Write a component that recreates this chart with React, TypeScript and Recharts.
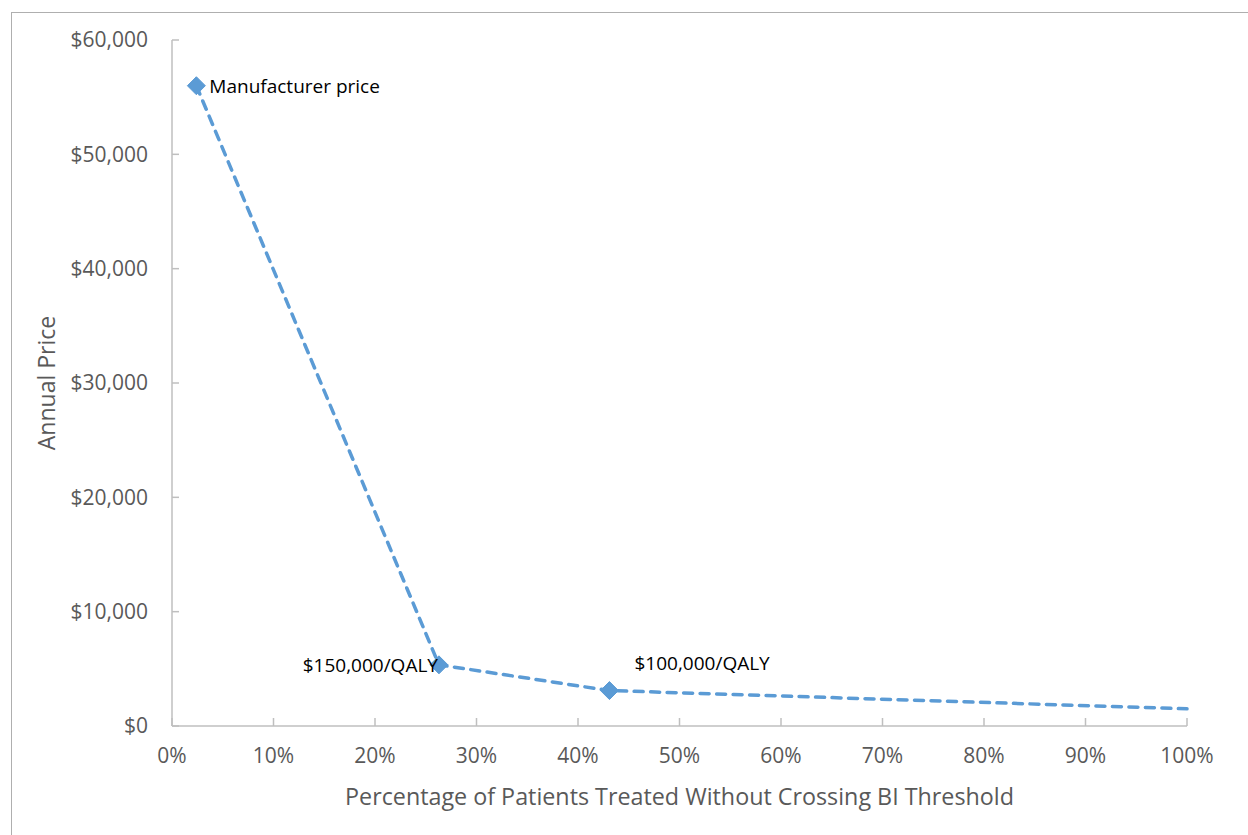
import React from 'react';
import { LineChart, Line, XAxis, YAxis, Label } from 'recharts';

// ---- data ----
const xPercent = [2.4, 26.3, 43.1, 100];
const annualPrice = [56000, 5350, 3100, 1500];
const pointLabels = ['Manufacturer price', '$150,000/QALY', '$100,000/QALY', ''];
const showMarker = [true, true, true, false];
const yTicks = [0, 10000, 20000, 30000, 40000, 50000, 60000];
const xTicks = [0, 10, 20, 30, 40, 50, 60, 70, 80, 90, 100];

const data = xPercent.map((x, i) => ({
  x,
  price: annualPrice[i],
  label: pointLabels[i],
  marker: showMarker[i],
}));

// ---- styles ----
const FONT = '"Open Sans", "Liberation Sans", sans-serif';
const AXIS_COLOR = '#BFBFBF';
const TICK_TEXT = '#595959';
const SERIES = '#5B9BD5';

const labelPlacement: Record<number, { dx: number; dy: number; anchor: 'start' | 'end' }> = {
  0: { dx: 13, dy: 1, anchor: 'start' },
  1: { dx: -1, dy: 1, anchor: 'end' },
  2: { dx: 25, dy: -27, anchor: 'start' },
};

const fmtMoney = (v: number) => '$' + v.toLocaleString('en-US');

const YTick = (props: any) => {
  const { x, y, payload } = props;
  return (
    <g>
      <line x1={x + 24} x2={x + 31} y1={y} y2={y} stroke={AXIS_COLOR} strokeWidth={1.5} />
      <text x={x} y={y} dy="0.35em" textAnchor="end" fill={TICK_TEXT} fontSize={21} fontFamily={FONT}>
        {fmtMoney(payload.value)}
      </text>
    </g>
  );
};

const XTick = (props: any) => {
  const { x, y, payload } = props;
  return (
    <g>
      <line x1={x} x2={x} y1={y - 30} y2={y - 38} stroke={AXIS_COLOR} strokeWidth={1.5} />
      <text x={x} y={y} dy="0.35em" textAnchor="middle" fill={TICK_TEXT} fontSize={21} fontFamily={FONT}>
        {payload.value + '%'}
      </text>
    </g>
  );
};

const Dot = (props: any) => {
  const { cx, cy, index, payload } = props;
  if (!payload.marker) return <g key={'d' + index} />;
  const r = 9;
  const p = labelPlacement[index];
  return (
    <g key={'d' + index}>
      <polygon
        points={`${cx},${cy - r} ${cx + r},${cy} ${cx},${cy + r} ${cx - r},${cy}`}
        fill={SERIES}
        stroke={SERIES}
        strokeWidth={1}
      />
      {payload.label && p ? (
        <text
          x={cx + p.dx}
          y={cy + p.dy}
          dy="0.35em"
          textAnchor={p.anchor}
          fill="#000000"
          fontSize={19}
          fontFamily={FONT}
        >
          {payload.label}
        </text>
      ) : null}
    </g>
  );
};

export default function App() {
  return (
    <div
      style={{
        position: 'absolute',
        left: 0,
        top: 0,
        width: 1248,
        height: 835,
        overflow: 'hidden',
        background: '#ffffff',
      }}
    >
      <div
        style={{
          position: 'absolute',
          left: 11,
          top: 12,
          width: 1400,
          height: 1000,
          border: '1.5px solid #AFAFAF',
        }}
      />
      <div style={{ position: 'absolute', left: 0, top: 0 }}>
        <LineChart
          width={1248}
          height={835}
          data={data}
          margin={{ top: 40, right: 61, bottom: 30, left: 0 }}
        >
          <XAxis
            dataKey="x"
            type="number"
            domain={[0, 100]}
            ticks={xTicks}
            interval={0}
            height={79}
            tickSize={0}
            tickMargin={30}
            tickLine={false}
            axisLine={{ stroke: AXIS_COLOR, strokeWidth: 1.5 }}
            tick={<XTick />}
          >
            <Label
              content={(p: any) => {
                const vb = p.viewBox;
                return (
                  <text
                    x={vb.x + vb.width / 2}
                    y={vb.y + 71}
                    dy="0.35em"
                    textAnchor="middle"
                    fill={TICK_TEXT}
                    fontSize={23.3}
                    fontFamily={FONT}
                  >
                    Percentage of Patients Treated Without Crossing BI Threshold
                  </text>
                );
              }}
            />
          </XAxis>
          <YAxis
            type="number"
            domain={[0, 60000]}
            ticks={yTicks}
            interval={0}
            width={172}
            tickSize={0}
            tickMargin={24}
            tickLine={false}
            axisLine={{ stroke: AXIS_COLOR, strokeWidth: 1.5 }}
            tick={<YTick />}
          >
            <Label
              content={(p: any) => {
                const vb = p.viewBox;
                const cx = vb.x + 47;
                const cy = vb.y + vb.height / 2;
                return (
                  <text
                    x={cx}
                    y={cy}
                    dy="0.35em"
                    textAnchor="middle"
                    transform={`rotate(-90, ${cx}, ${cy})`}
                    fill={TICK_TEXT}
                    fontSize={23}
                    fontFamily={FONT}
                  >
                    Annual Price
                  </text>
                );
              }}
            />
          </YAxis>
          <Line
            type="linear"
            dataKey="price"
            stroke={SERIES}
            strokeWidth={3.5}
            strokeDasharray="9 7.5"
            strokeLinecap="round"
            dot={(p: any) => <Dot key={'dot' + p.index} {...p} />}
            activeDot={false}
            isAnimationActive={false}
          />
        </LineChart>
      </div>
    </div>
  );
}
